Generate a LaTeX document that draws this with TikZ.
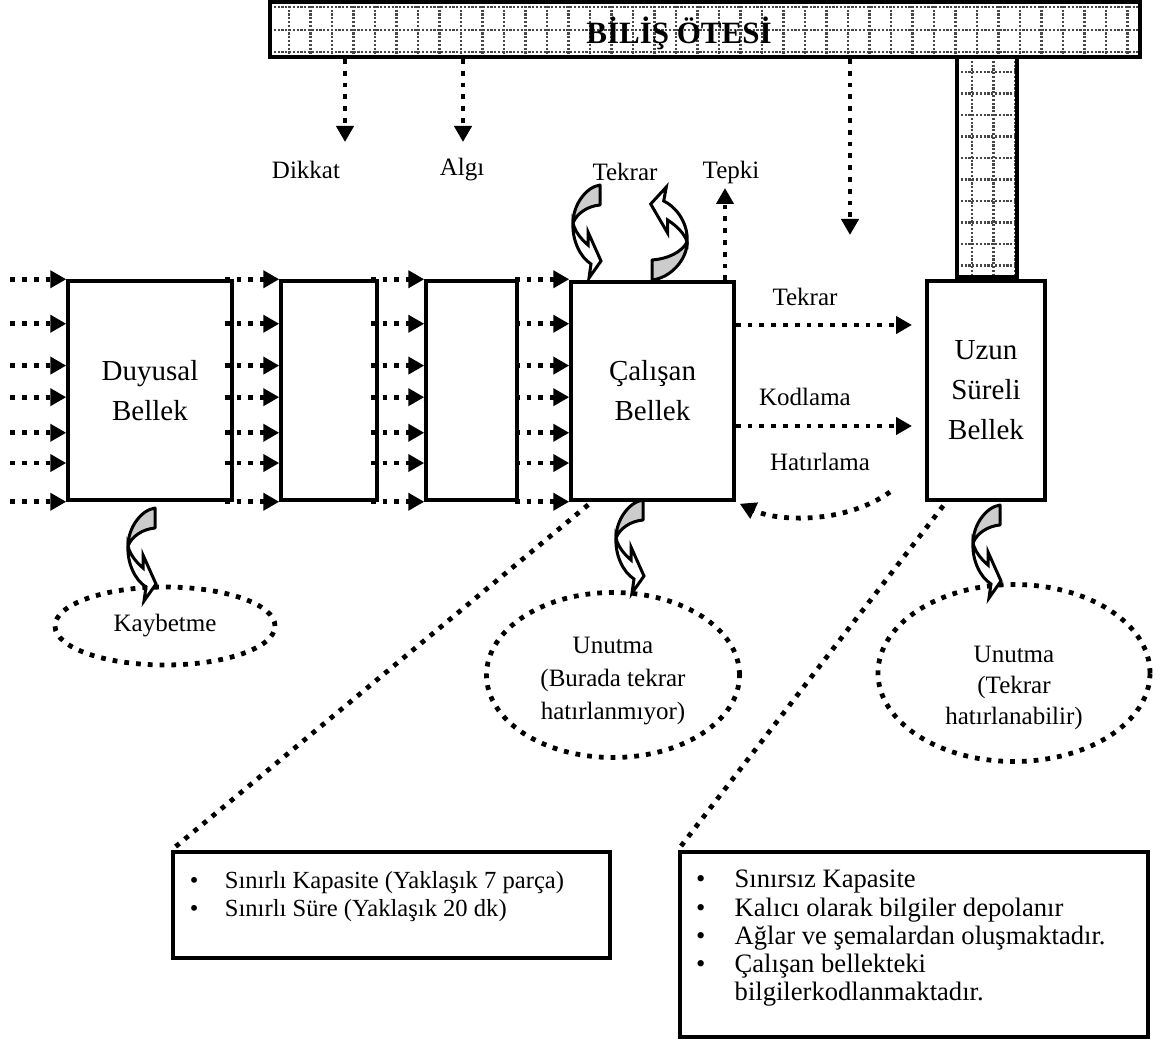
\documentclass[tikz,border=0pt]{standalone}
\usepackage{fontspec}
\setmainfont{Liberation Serif}
\usetikzlibrary{arrows.meta,calc,shapes.geometric}

\begin{document}
\begin{tikzpicture}[x=1pt,y=-1pt,
  box/.style={draw, line width=3.5pt, inner sep=0pt, align=center,
              font=\fontsize{29}{40}\selectfont},
  lbl/.style={inner sep=0pt, align=center, font=\fontsize{25}{33}\selectfont},
  dots/.style={line width=4.8pt, dash pattern=on 4.8pt off 7pt},
  flow/.style={dots, -{Triangle[length=16pt,width=17pt]}},
  griddot/.style={line width=2.2pt, dash pattern=on 2.2pt off 1.6pt, draw=black!72},
  cloud/.style={ellipse, draw, dots, inner sep=0pt},
  listbox/.style={draw, line width=3.5pt, inner sep=0pt},
  listtext/.style={anchor=north west, inner sep=0pt, align=left,
                   font=\fontsize{24.6}{27.5}\selectfont},
  twist/.pic={
    % front face of the curled ribbon
    \filldraw[fill=gray!40, line width=3pt, line join=round]
      (0,0) -- (0,20) .. controls (-12,21) and (-23,28) .. (-27,38)
      .. controls (-27,20) and (-14,2) .. cycle;
    % back face ending in the arrow head
    \filldraw[fill=white, line width=3pt, line join=miter]
      (-27,38) .. controls (-28,55) and (-20,72) .. (-9,79)
      -- (-11,93) -- (1,76) -- (-12,47) -- (-12,60)
      .. controls (-18,55) and (-25,47) .. (-27,38) -- cycle;
  }
]
\useasboundingbox (0,0) rectangle (1160,1043);

% metacognition bar with its dotted grid
\begin{scope}
  \clip (270,2) rectangle (1140,57);
  \foreach \gx in {289,310.5,...,1140} \draw[griddot] (\gx,2) -- (\gx,57);
  \foreach \gy in {7,30,52} \draw[griddot] (270,\gy) -- (1140,\gy);
\end{scope}
\node[draw, line width=4pt, minimum width=870pt, minimum height=55pt, inner sep=0pt] (bar) at (705,29.5) {};
\node[inner sep=1pt, font=\fontsize{31}{31}\bfseries\selectfont] (title) at (679,33) {BİLİŞ ÖTESİ};

% column down to long-term memory
\begin{scope}
  \clip (957,57) rectangle (1017,277);
  \foreach \gx in {972,993.5,1015} \draw[griddot] (\gx,57) -- (\gx,277);
  \foreach \gy in {72,93.5,...,270} \draw[griddot] (957,\gy) -- (1017,\gy);
\end{scope}
\node[draw, line width=4pt, minimum width=60pt, minimum height=220pt, inner sep=0pt] (col) at (987,167) {};

% memory stores
\node[box, minimum width=164pt, minimum height=219pt] (duy) at (150,390.5) {Duyusal\\Bellek};
\node[box, minimum width=96pt, minimum height=219pt] (m1) at (329,390.5) {};
\node[box, minimum width=91pt, minimum height=219pt] (m2) at (471.5,390.5) {};
\node[box, minimum width=163pt, minimum height=218pt] (cal) at (652.5,391) {Çalışan\\Bellek};
\node[box, minimum width=118pt, minimum height=219pt] (uzun) at (986,390.5) {Uzun\\Süreli\\Bellek};

% incoming stimuli and transfer between stages
\foreach \f in {0,0.2,0.388,0.53,0.69,0.826,1}{
  \coordinate (src) at ($(duy.north west)!\f!(duy.south west)+(-56,0)$);
  \draw[flow] (src) -- (duy.west |- src);
  \draw[flow] ($(duy.east |- src)+(-9,0)$) -- (m1.west |- src);
  \draw[flow] ($(m1.east |- src)+(-8,0)$) -- (m2.west |- src);
  \draw[flow] ($(m2.east |- src)+(-4,0)$) -- (cal.west |- src);
}

% arrows from the metacognition bar
\coordinate (dk) at (345,142);
\coordinate (al) at (463,142);
\coordinate (uz) at (850,235);
\draw[flow] (bar.south -| dk) -- (dk);
\draw[flow] (bar.south -| al) -- (al);
\draw[flow] (bar.south -| uz) -- (uz);

\node[lbl] (dikkat) at (306,170) {Dikkat};
\node[lbl] (algi) at (462,170) {Algı};
\node[lbl] (tekrar1) at (625,172) {Tekrar};
\node[lbl] (tepki) at (731,172) {Tepki};

% response
\coordinate (tp) at (725,188);
\draw[flow] (cal.north -| tp) -- (tp);

% rehearsal loop
\pic at (600,185) {twist};
\pic[rotate=180, xscale=1.3] at (652,280) {twist};

% working memory <-> long-term memory
\coordinate (tk) at (912,325);
\coordinate (kd) at (912,426);
\draw[flow] (cal.east |- tk) -- (tk);
\draw[flow] (cal.east |- kd) -- (kd);
\node[lbl] (tekrar2) at (805,297) {Tekrar};
\node[lbl] (kodlama) at (805,397) {Kodlama};
\node[lbl] (hatirlama) at (820,462) {Hatırlama};
\coordinate (ht) at (890,492);
\draw[flow] (ht) .. controls (845,524) and (778,522) .. ($(cal.south east)+(4,2)$);

% losses
\pic at (155,508) {twist};
\pic at (643,500) {twist};
\pic at (1000,505) {twist};

\node[cloud, minimum width=220pt, minimum height=78pt] (kay) at (165,626) {};
\node[lbl] (kaytxt) at (kay.center) {Kaybetme};
\node[cloud, minimum width=253pt, minimum height=165pt] (un1) at (613,675) {};
\node[lbl] (un1txt) at ($(un1.center)+(0,6)$) {Unutma\\(Burada tekrar\\hatırlanmıyor)};
\node[cloud, minimum width=272pt, minimum height=177pt] (un2) at (1014,673) {};
\node[lbl, font=\fontsize{25}{31}\selectfont] (un2txt) at ($(un2.center)+(0,15)$) {Unutma\\(Tekrar\\hatırlanabilir)};

% characteristics
\node[listbox, minimum width=437pt, minimum height=106pt] (b1) at (391.5,905) {};
\node[listbox, line width=4pt, minimum width=468pt, minimum height=185pt] (b2) at (914,944.5) {};
\draw[dots] ($(cal.south west)+(19,3)$) -- (b1.north west);
\draw[dots] ($(uzun.south west)+(18,4)$) -- (b2.north west);

\node[listtext] (b1txt) at ($(b1.north west)+(18.5,21)$)
  {\makebox[35pt][l]{\textbullet}Sınırlı Kapasite (Yaklaşık 7 parça)\\
   \makebox[35pt][l]{\textbullet}Sınırlı Süre (Yaklaşık 20 dk)};
\node[listtext, font=\fontsize{26.6}{28.2}\selectfont] (b2txt) at ($(b2.north west)+(18,20)$)
  {\makebox[38.5pt][l]{\textbullet}Sınırsız Kapasite\\
   \makebox[38.5pt][l]{\textbullet}Kalıcı olarak bilgiler depolanır\\
   \makebox[38.5pt][l]{\textbullet}Ağlar ve şemalardan oluşmaktadır.\\
   \makebox[38.5pt][l]{\textbullet}Çalışan bellekteki\\
   \hspace*{38.5pt}bilgilerkodlanmaktadır.};
\end{tikzpicture}
\end{document}
